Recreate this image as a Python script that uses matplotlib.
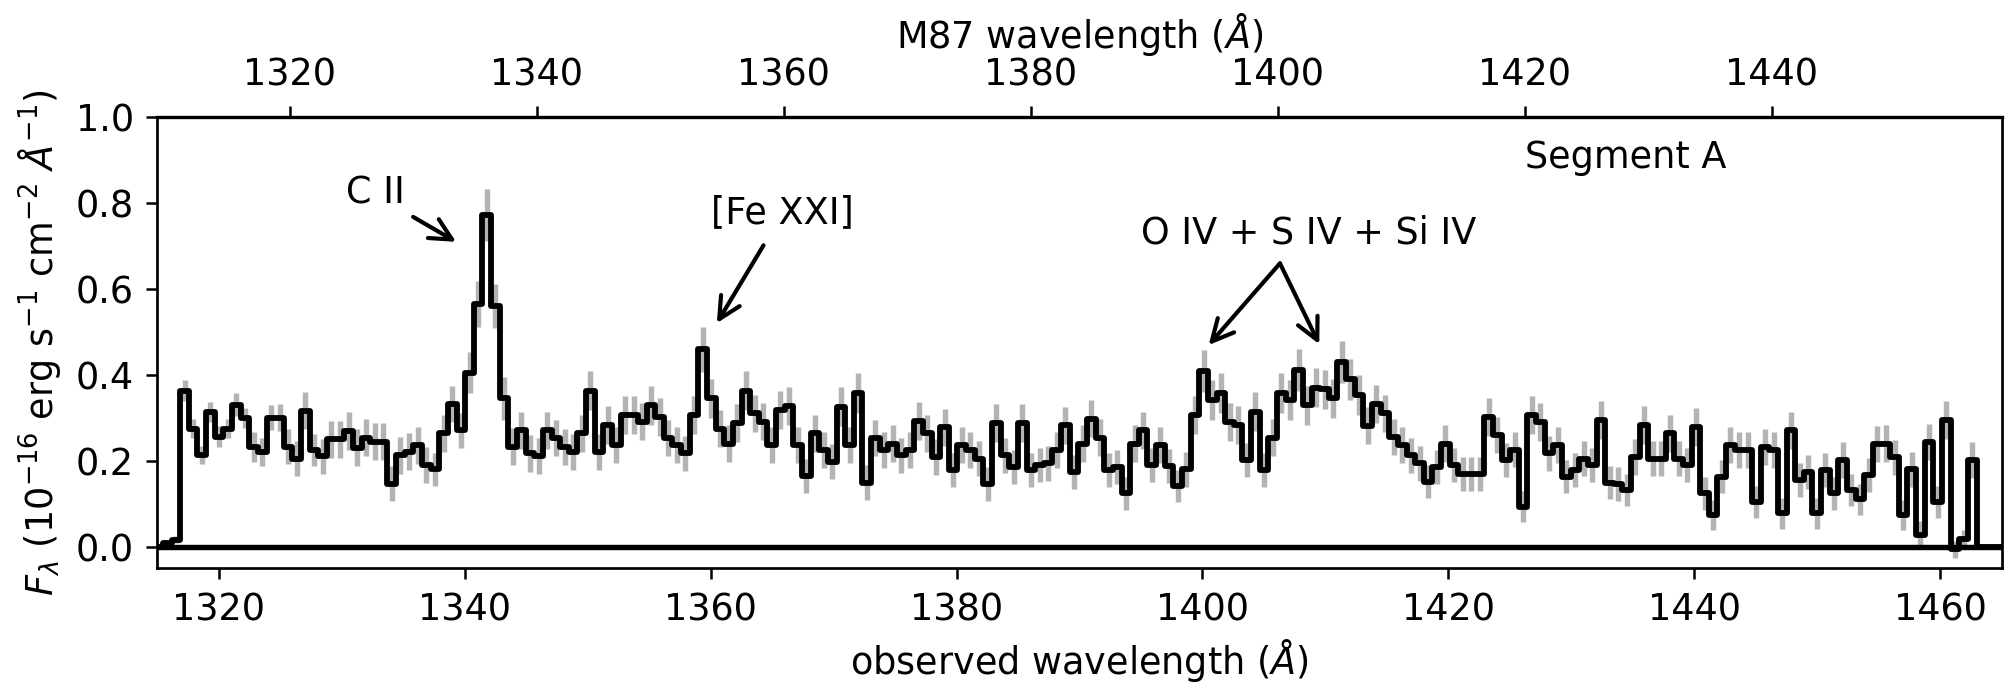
import numpy as np
import matplotlib.pyplot as plt

# COS segment A spectrum of M87, binned to ~0.70 A
z = 0.00436
wave_start = 1315.10
dlam = 0.7024

flux_pre = [0.0, 0.008, 0.016]
flux_a = [0.363, 0.275, 0.213, 0.314, 0.256, 0.275, 0.330, 0.300, 0.233, 0.220,
          0.300, 0.300, 0.233, 0.205, 0.316, 0.225, 0.210, 0.250, 0.250, 0.270,
          0.230, 0.253, 0.244, 0.244, 0.147]
flux_b = [0.213, 0.221, 0.236, 0.190, 0.180, 0.264, 0.332, 0.271, 0.405, 0.564,
          0.771, 0.560, 0.345, 0.233, 0.271, 0.217, 0.211, 0.271, 0.252, 0.233,
          0.221, 0.264, 0.363, 0.221, 0.283, 0.236, 0.306]
flux_c = [0.306, 0.291, 0.329, 0.301, 0.252, 0.236, 0.217, 0.306, 0.459, 0.345,
          0.275, 0.240, 0.287, 0.363, 0.310, 0.291, 0.236, 0.318, 0.327, 0.236,
          0.164, 0.264, 0.225, 0.198, 0.326, 0.236, 0.357]
flux_d = [0.149, 0.252, 0.225, 0.240, 0.213, 0.225, 0.293, 0.264, 0.209, 0.278,
          0.178, 0.236, 0.225, 0.205, 0.146, 0.287, 0.213, 0.186, 0.287, 0.178,
          0.190, 0.194, 0.225, 0.283, 0.174, 0.240]
flux_e = [0.298, 0.254, 0.178, 0.186, 0.124, 0.240, 0.271, 0.190, 0.236, 0.188,
          0.141, 0.180, 0.306, 0.409, 0.341, 0.357, 0.291, 0.283, 0.202, 0.314,
          0.178, 0.254, 0.357, 0.341, 0.411, 0.329, 0.370]
flux_f = [0.366, 0.345, 0.430, 0.389, 0.353, 0.281, 0.332, 0.310, 0.256, 0.236,
          0.213, 0.194, 0.151, 0.186, 0.240, 0.190, 0.169, 0.169, 0.169, 0.302,
          0.260, 0.202, 0.226, 0.093, 0.306, 0.291, 0.217]
flux_g = [0.236, 0.163, 0.178, 0.205, 0.190, 0.295, 0.149, 0.146, 0.132, 0.209,
          0.283, 0.205, 0.205, 0.264, 0.205, 0.190, 0.279, 0.124, 0.074, 0.163,
          0.236, 0.225, 0.225, 0.105, 0.233, 0.225, 0.078]
flux_h = [0.271, 0.155, 0.174, 0.078, 0.178, 0.124, 0.202, 0.132, 0.110, 0.167,
          0.239, 0.240, 0.208, 0.074, 0.180, 0.027, 0.244, 0.105, 0.295, -0.006,
          0.017, 0.202]
flux_post = [0.0, 0.0, 0.0, 0.0]

err_pre = [0.006, 0.006, 0.008]
err_a = [0.025, 0.022, 0.021, 0.023, 0.025, 0.022, 0.027, 0.023, 0.035, 0.033,
         0.029, 0.031, 0.040, 0.040, 0.043, 0.037, 0.040, 0.043, 0.043, 0.044,
         0.043, 0.043, 0.043, 0.043, 0.040]
err_b = [0.043, 0.043, 0.043, 0.041, 0.039, 0.043, 0.041, 0.041, 0.048, 0.054,
         0.060, 0.052, 0.050, 0.043, 0.043, 0.042, 0.042, 0.043, 0.042, 0.042,
         0.042, 0.043, 0.046, 0.042, 0.044, 0.042, 0.044]
err_c = [0.044, 0.043, 0.045, 0.044, 0.042, 0.042, 0.041, 0.044, 0.052, 0.046,
         0.043, 0.042, 0.044, 0.046, 0.044, 0.043, 0.042, 0.044, 0.045, 0.042,
         0.040, 0.043, 0.041, 0.041, 0.045, 0.042, 0.046]
err_d = [0.040, 0.042, 0.041, 0.042, 0.041, 0.041, 0.044, 0.043, 0.041, 0.043,
         0.040, 0.042, 0.041, 0.041, 0.039, 0.044, 0.041, 0.040, 0.044, 0.040,
         0.040, 0.040, 0.041, 0.043, 0.040, 0.042]
err_e = [0.043, 0.042, 0.040, 0.040, 0.038, 0.042, 0.043, 0.040, 0.042, 0.040,
         0.038, 0.040, 0.044, 0.048, 0.046, 0.046, 0.044, 0.044, 0.040, 0.045,
         0.040, 0.042, 0.046, 0.046, 0.048, 0.045, 0.046]
err_f = [0.046, 0.046, 0.049, 0.047, 0.046, 0.043, 0.045, 0.044, 0.042, 0.042,
         0.041, 0.040, 0.038, 0.040, 0.042, 0.040, 0.039, 0.039, 0.039, 0.044,
         0.042, 0.040, 0.041, 0.036, 0.044, 0.044, 0.041]
err_g = [0.042, 0.039, 0.040, 0.041, 0.040, 0.044, 0.039, 0.039, 0.038, 0.041,
         0.044, 0.041, 0.041, 0.043, 0.041, 0.040, 0.044, 0.038, 0.035, 0.039,
         0.042, 0.041, 0.041, 0.037, 0.042, 0.041, 0.036]
err_h = [0.043, 0.039, 0.040, 0.036, 0.040, 0.038, 0.041, 0.038, 0.037, 0.040,
         0.042, 0.042, 0.041, 0.035, 0.040, 0.032, 0.042, 0.037, 0.044, 0.020,
         0.022, 0.041]
err_post = [0.006, 0.006, 0.006, 0.006]

top_ticks = [1320, 1340, 1360, 1380, 1400, 1420, 1440]

flux = np.array(flux_pre + flux_a + flux_b + flux_c + flux_d + flux_e
                + flux_f + flux_g + flux_h + flux_post)
err = np.array(err_pre + err_a + err_b + err_c + err_d + err_e
               + err_f + err_g + err_h + err_post)
wave = wave_start + dlam * np.arange(len(flux))

plt.rcParams['font.size'] = 8.8

fig = plt.figure(figsize=(2015 / 300, 688 / 300), dpi=300)
ax = fig.add_axes([0.0781, 0.174, 0.9153, 0.6564])

ax.errorbar(wave, flux, yerr=err, fmt='none', ecolor='0.7', elinewidth=1.3, zorder=1)
ax.axhline(0, color='k', lw=1.3, zorder=2)
ax.plot(wave, flux, drawstyle='steps-mid', color='k', lw=1.4, zorder=3)

ax.set_xlim(1315, 1465)
ax.set_ylim(-0.05, 1.0)
ax.set_xlabel(r'observed wavelength ($\AA$)', labelpad=2)
ax.set_ylabel(r'$F_\lambda$ ($10^{-16}$ erg s$^{-1}$ cm$^{-2}$ $\AA^{-1}$)', labelpad=3)

top = ax.secondary_xaxis('top', functions=(lambda x: x / (1 + z), lambda x: x * (1 + z)))
top.set_xticks(top_ticks)
top.set_xlabel(r'M87 wavelength ($\AA$)', labelpad=2)

for a in (ax, top):
    a.tick_params(length=2.6, width=0.6, pad=3)
for s in ax.spines.values():
    s.set_linewidth(0.65)

arrow = dict(arrowstyle='->', color='k', lw=1.0, mutation_scale=13,
             shrinkA=0, shrinkB=0)

ax.text(1332.7, 0.822, 'C II', ha='center', va='center')
ax.annotate('', xy=(1339.3, 0.709), xytext=(1335.8, 0.767), arrowprops=arrow)

ax.text(1365.8, 0.778, '[Fe XXI]', ha='center', va='center')
ax.annotate('', xy=(1360.5, 0.52), xytext=(1364.3, 0.701), arrowprops=arrow)

ax.text(1408.6, 0.73, 'O IV + S IV + Si IV', ha='center', va='center')
ax.annotate('', xy=(1400.5, 0.469), xytext=(1406.3, 0.659), arrowprops=arrow)
ax.annotate('', xy=(1409.5, 0.471), xytext=(1406.3, 0.659), arrowprops=arrow)

ax.text(1434.4, 0.906, 'Segment A', ha='center', va='center')

fig.savefig('out.png', dpi=300)
